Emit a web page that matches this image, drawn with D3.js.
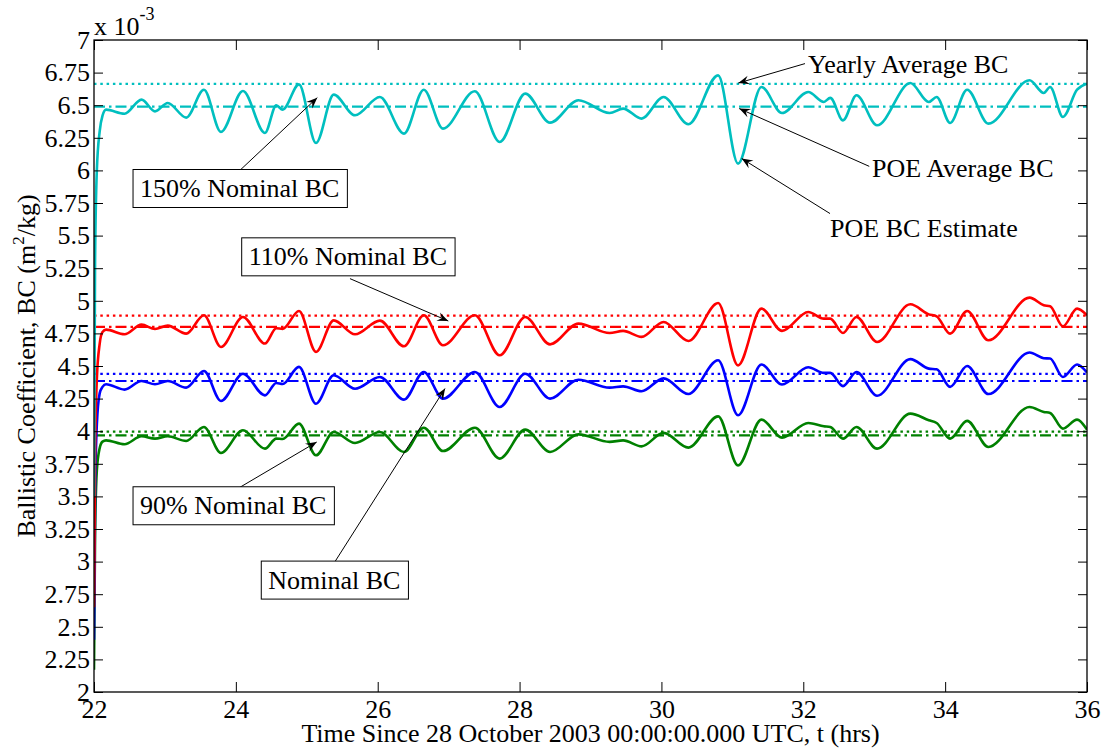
<!DOCTYPE html>
<html>
<head>
<meta charset="utf-8">
<script src="https://cdn.jsdelivr.net/npm/d3@7"></script>
<style>
  body { margin: 0; background: #fff; }
  svg text { font-family: "Liberation Serif", "Times New Roman", serif; }
</style>
</head>
<body>
<svg id="chart"></svg>
<script>
// time since 28 Oct 2003 00:00 UTC, hours (shared by all four runs)
const hours = [
  22.0, 22.015, 22.04, 22.08, 22.12, 22.17,
  22.43, 22.67, 22.86, 23.04, 23.30, 23.55, 23.79, 24.10, 24.41, 24.57, 24.66, 24.89, 25.13, 25.38,
  25.68, 26.03, 26.37, 26.65, 26.92, 27.37, 27.72, 28.08, 28.43, 28.83,
  29.27, 29.46, 29.72, 30.03, 30.38, 30.80, 31.08, 31.41, 31.70, 32.07, 32.29, 32.38, 32.56,
  32.75, 33.04, 33.51, 33.77, 33.88, 34.07, 34.31, 34.61, 35.19, 35.39, 35.48, 35.66, 35.86, 36.0
];

// POE BC estimates, x 10^-3 m^2/kg
const bc90 = [
  2.17, 3.20, 3.70, 3.87, 3.92, 3.930,
  3.900, 3.961, 3.943, 3.961, 3.925, 4.032, 3.833, 4.007, 3.866, 3.943, 3.940, 4.058, 3.815, 3.994,
  3.910, 3.994, 3.841, 4.027, 3.848, 4.027, 3.790, 4.012, 3.841, 3.976,
  3.918, 3.930, 3.884, 3.987, 3.874, 4.114, 3.738, 4.089, 3.951, 4.063, 4.038, 4.032, 3.943,
  4.032, 3.866, 4.135, 4.084, 4.063, 3.943, 4.079, 3.879, 4.186, 4.148, 4.140, 4.020, 4.089, 4.012
];
const bc100 = [
  2.40, 3.50, 4.05, 4.29, 4.34, 4.360,
  4.319, 4.385, 4.360, 4.385, 4.334, 4.462, 4.232, 4.441, 4.275, 4.370, 4.362, 4.493, 4.211, 4.429,
  4.326, 4.416, 4.242, 4.454, 4.250, 4.454, 4.186, 4.441, 4.250, 4.395,
  4.334, 4.344, 4.306, 4.405, 4.285, 4.544, 4.122, 4.512, 4.358, 4.490, 4.447, 4.447, 4.346,
  4.454, 4.272, 4.553, 4.480, 4.475, 4.340, 4.500, 4.285, 4.603, 4.560, 4.557, 4.416, 4.512, 4.450
];
const bc110 = [
  2.65, 3.80, 4.40, 4.67, 4.76, 4.779,
  4.743, 4.817, 4.784, 4.810, 4.748, 4.889, 4.646, 4.876, 4.672, 4.790, 4.785, 4.922, 4.608, 4.850,
  4.743, 4.848, 4.651, 4.889, 4.659, 4.889, 4.582, 4.876, 4.666, 4.825,
  4.753, 4.769, 4.723, 4.838, 4.692, 4.983, 4.505, 4.940, 4.769, 4.914, 4.863, 4.863, 4.753,
  4.876, 4.684, 4.973, 4.896, 4.881, 4.748, 4.922, 4.697, 5.024, 4.966, 4.958, 4.804, 4.940, 4.889
];
const bc150 = [
  3.50, 5.30, 6.00, 6.30, 6.42, 6.466,
  6.435, 6.543, 6.453, 6.517, 6.405, 6.619, 6.295, 6.609, 6.287, 6.499, 6.466, 6.660, 6.210, 6.581,
  6.423, 6.563, 6.282, 6.619, 6.320, 6.607, 6.218, 6.589, 6.366, 6.538,
  6.440, 6.474, 6.397, 6.563, 6.354, 6.729, 6.052, 6.640, 6.440, 6.601, 6.525, 6.556, 6.384,
  6.576, 6.346, 6.670, 6.525, 6.563, 6.364, 6.619, 6.359, 6.691, 6.594, 6.640, 6.410, 6.619, 6.665
];

const runNames = ['90% Nominal BC', 'Nominal BC', '110% Nominal BC', '150% Nominal BC'];
const poeAverage = [3.968, 4.385, 4.800, 6.489];
const yearlyAverage = [3.997, 4.439, 4.886, 6.663];

const xTicks = [22, 24, 26, 28, 30, 32, 34, 36];
const yTicks = [2, 2.25, 2.5, 2.75, 3, 3.25, 3.5, 3.75, 4, 4.25, 4.5, 4.75, 5,
                5.25, 5.5, 5.75, 6, 6.25, 6.5, 6.75, 7];

const runColors = ['#008000', '#0000ff', '#ff0000', '#00bfbf'];
const runs = [bc90, bc100, bc110, bc150];

const W = 1107, H = 751;
const m = { left: 94, right: 1087, top: 40, bottom: 692 };
const FONT = 26;

const svg = d3.select('#chart').attr('width', W).attr('height', H);

const x = d3.scaleLinear().domain([22, 36]).range([m.left, m.right]);
const y = d3.scaleLinear().domain([2, 7]).range([m.bottom, m.top]);

svg.append('defs').append('clipPath').attr('id', 'plot')
  .append('rect')
  .attr('x', m.left).attr('y', m.top)
  .attr('width', m.right - m.left).attr('height', m.bottom - m.top);

svg.select('defs').append('marker')
  .attr('id', 'head')
  .attr('viewBox', '-12 -6 14 12')
  .attr('refX', 0).attr('refY', 0)
  .attr('markerWidth', 14).attr('markerHeight', 12)
  .attr('markerUnits', 'userSpaceOnUse')
  .attr('orient', 'auto')
  .append('path')
  .attr('d', 'M0,0 L-11,-4.5 L-7,0 L-11,4.5 Z')
  .attr('fill', '#000');

const plot = svg.append('g').attr('clip-path', 'url(#plot)');

// average lines: yearly (dotted), POE (dash-dot)
runColors.forEach((col, i) => {
  plot.append('line')
    .attr('x1', x(22)).attr('x2', x(36))
    .attr('y1', y(yearlyAverage[i])).attr('y2', y(yearlyAverage[i]))
    .attr('stroke', col).attr('stroke-width', 2.2)
    .attr('stroke-dasharray', '2.5,3.8');
  plot.append('line')
    .attr('x1', x(22)).attr('x2', x(36))
    .attr('y1', y(poeAverage[i])).attr('y2', y(poeAverage[i]))
    .attr('stroke', col).attr('stroke-width', 2.2)
    .attr('stroke-dasharray', '11,4,2.5,4');
});

const line = d3.line()
  .x(d => x(d[0]))
  .y(d => y(d[1]))
  .curve(d3.curveMonotoneX);

runs.forEach((vals, i) => {
  plot.append('path')
    .datum(hours.map((t, k) => [t, vals[k]]))
    .attr('d', line)
    .attr('fill', 'none')
    .attr('stroke', runColors[i])
    .attr('stroke-width', 2.6)
    .attr('stroke-linejoin', 'round');
});

// axes, ticks inside like matlab
function styleAxis(g) {
  g.select('.domain').remove();
  g.selectAll('line').attr('stroke', '#000').attr('stroke-width', 1);
  g.selectAll('text')
    .attr('font-family', '"Liberation Serif", "Times New Roman", serif')
    .attr('font-size', FONT)
    .attr('fill', '#000');
}

svg.append('g')
  .attr('transform', `translate(${m.left},0)`)
  .call(d3.axisLeft(y).tickValues(yTicks).tickFormat(d => String(d))
    .tickSizeInner(-9).tickSizeOuter(0).tickPadding(4))
  .call(styleAxis);

svg.append('g')
  .attr('transform', `translate(${m.right},0)`)
  .call(d3.axisRight(y).tickValues(yTicks).tickFormat('')
    .tickSizeInner(-9).tickSizeOuter(0))
  .call(styleAxis);

svg.append('g')
  .attr('transform', `translate(0,${m.bottom})`)
  .call(d3.axisBottom(x).tickValues(xTicks).tickFormat(d => String(d))
    .tickSizeInner(-10).tickSizeOuter(0).tickPadding(7.5))
  .call(styleAxis);

svg.append('g')
  .attr('transform', `translate(0,${m.top})`)
  .call(d3.axisTop(x).tickValues(xTicks).tickFormat('')
    .tickSizeInner(-10).tickSizeOuter(0))
  .call(styleAxis);

svg.append('rect')
  .attr('x', m.left).attr('y', m.top)
  .attr('width', m.right - m.left).attr('height', m.bottom - m.top)
  .attr('fill', 'none').attr('stroke', '#000').attr('stroke-width', 1.3);

// exponent label
const expo = svg.append('text')
  .attr('x', m.left).attr('y', 35)
  .attr('font-size', FONT);
expo.append('tspan').text('x 10');
expo.append('tspan').attr('font-size', 18).attr('dy', -15).text('-3');

// axis titles
svg.append('text')
  .attr('x', (m.left + m.right) / 2).attr('y', 742)
  .attr('text-anchor', 'middle')
  .attr('font-size', FONT)
  .text('Time Since 28 October 2003 00:00:00.000 UTC, t (hrs)');

const yl = svg.append('text')
  .attr('transform', `translate(35,${(m.top + m.bottom) / 2}) rotate(-90)`)
  .attr('text-anchor', 'middle')
  .attr('font-size', FONT);
yl.append('tspan').text('Ballistic Coefficient, BC (m');
yl.append('tspan').attr('font-size', 17).attr('dy', -11).text('2');
yl.append('tspan').attr('dy', 11).text('/kg)');

// annotations in data units: boxed labels for each run
const boxed = [
  { label: runNames[3], at: [22.649, 5.796], from: [24.072, 6.008], to: [25.148, 6.558] },
  { label: runNames[2], at: [24.181, 5.272], from: [25.609, 5.170], to: [26.995, 4.845] },
  { label: runNames[0], at: [22.649, 3.363], from: [24.058, 3.570], to: [25.140, 3.917] },
  { label: runNames[1], at: [24.457, 2.793], from: [25.392, 2.995], to: [26.949, 4.327] }
];
const plain = [
  { label: 'Yearly Average BC', at: [32.066, 6.745], from: [32.024, 6.819], to: [31.084, 6.670] },
  { label: 'POE Average BC', at: [32.969, 5.949], from: [32.930, 6.031], to: [31.097, 6.474] },
  { label: 'POE BC Estimate', at: [32.377, 5.489], from: [32.377, 5.669], to: [31.132, 6.091] }
];

const notes = svg.append('g');

[...boxed, ...plain].forEach(a => {
  notes.append('line')
    .attr('x1', x(a.from[0])).attr('y1', y(a.from[1]))
    .attr('x2', x(a.to[0])).attr('y2', y(a.to[1]))
    .attr('stroke', '#000').attr('stroke-width', 1)
    .attr('marker-end', 'url(#head)');
});

boxed.forEach(a => {
  const g = notes.append('g');
  const t = g.append('text')
    .attr('x', x(a.at[0])).attr('y', y(a.at[1]))
    .attr('font-size', FONT)
    .text(a.label);
  const bb = t.node().getBBox();
  g.insert('rect', 'text')
    .attr('x', bb.x - 7).attr('y', bb.y - 4.5)
    .attr('width', bb.width + 15).attr('height', bb.height + 9)
    .attr('fill', '#fff').attr('stroke', '#000').attr('stroke-width', 1);
});

plain.forEach(a => {
  notes.append('text')
    .attr('x', x(a.at[0])).attr('y', y(a.at[1]))
    .attr('font-size', FONT)
    .text(a.label);
});
</script>
</body>
</html>
